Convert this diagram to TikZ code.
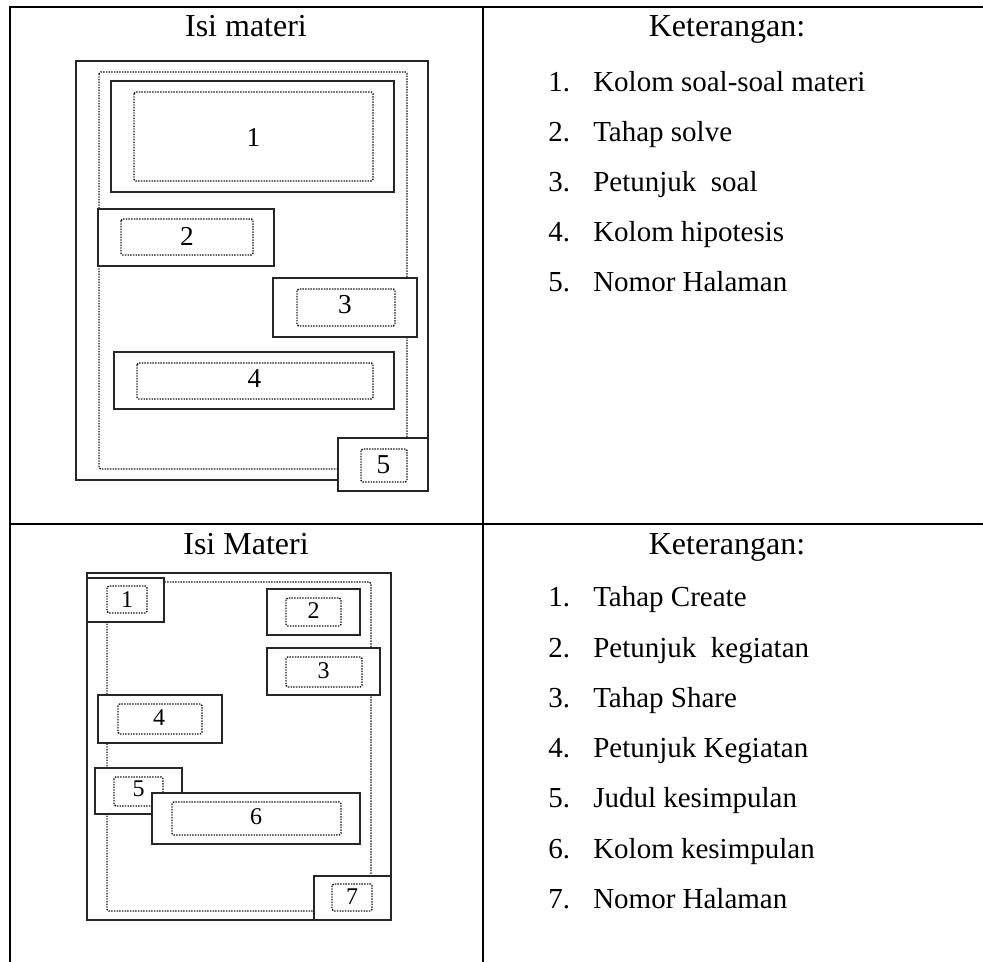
\documentclass[tikz,border=0pt]{standalone}
\usepackage{fontspec}
\setmainfont{Liberation Serif}
\begin{document}
\begin{tikzpicture}[x=0.75pt,y=-0.75pt,
  tableline/.style={line width=1.5pt,black},
  solidbox/.style={draw=black!85,line width=1.1pt,fill=white},
  dotbox/.style={draw=black!90,line width=1pt,dash pattern=on 1.1pt off 0.9pt,rounded corners=1.2pt},
  head/.style={anchor=base,inner sep=0pt,font=\fontsize{24}{28}\selectfont},
  item/.style={anchor=base west,inner sep=0pt,font=\fontsize{21.75}{26}\selectfont},
  digA/.style={inner sep=0pt,font=\fontsize{20.5}{22}\selectfont},
  digB/.style={inner sep=0pt,font=\fontsize{18}{20}\selectfont}]
\useasboundingbox (0,0) rectangle (983,962);
% table lines
\draw[tableline] (10,7.5) -- (983,7.5);
\draw[tableline] (10,524) -- (983,524);
\draw[tableline] (10,6.5) -- (10,962);
\draw[tableline] (483,6.5) -- (483,962);
% headings
\node[head] (h1) at (246,37) {Isi materi};
\node[head] (k1) at (727,37) {Keterangan:};
\node[head] (h2) at (246,555) {Isi Materi};
\node[head] (k2) at (727,555) {Keterangan:};
% legend 1
\foreach \n/\t [count=\i from 0] in {1/Kolom soal-soal materi,2/Tahap solve,3/Petunjuk\ \ soal,4/Kolom hipotesis,5/Nomor Halaman}{
  \node[item] (la\n) at (548,92+50*\i) {\n.};
  \node[item] (ta\n) at (593,92+50*\i) {\t};
}
% legend 2
\foreach \n/\t [count=\i from 0] in {1/Tahap Create,2/Petunjuk\ \ kegiatan,3/Tahap Share,4/Petunjuk Kegiatan,5/Judul kesimpulan,6/Kolom kesimpulan,7/Nomor Halaman}{
  \node[item] (lb\n) at (548,607+50.2*\i) {\n.};
  \node[item] (tb\n) at (593,607+50.2*\i) {\t};
}
% ---- layout 1 ----
\draw[draw=black!85,line width=1.1pt] (76,61) rectangle (428,480);
\draw[dotbox] (99,72) rectangle (407,469);
\draw[solidbox] (111,81) rectangle (394,192);
\draw[dotbox] (134,92) rectangle (373,181);
\node[digA] (a1) at (253.5,137.5) {1};
\draw[solidbox] (98,209) rectangle (274,266);
\draw[dotbox] (121,219) rectangle (253,255);
\node[digA] (a2) at (187,236) {2};
\draw[solidbox] (273,278) rectangle (417,337);
\draw[dotbox] (297,289) rectangle (395,326);
\node[digA] (a3) at (345,305) {3};
\draw[solidbox] (114,352) rectangle (394,409);
\draw[dotbox] (137,363) rectangle (373,399);
\node[digA] (a4) at (254.5,379) {4};
\draw[solidbox] (338,438) rectangle (428,491);
\draw[dotbox] (361,449) rectangle (407,482);
\node[digA] (a5) at (383.5,465) {5};
% ---- layout 2 ----
\draw[draw=black!85,line width=1.1pt] (87,573) rectangle (391,920);
\draw[dotbox] (107,582) rectangle (371,911);
\draw[solidbox] (87,578) rectangle (164,622);
\draw[dotbox] (107,586) rectangle (147,613);
\node[digB] (b1) at (127,599.5) {1};
\draw[solidbox] (267,589) rectangle (360,635);
\draw[dotbox] (286,598) rectangle (341,626);
\node[digB] (b2) at (313.5,611) {2};
\draw[solidbox] (267,648) rectangle (380,695);
\draw[dotbox] (286,657) rectangle (362,687);
\node[digB] (b3) at (323.5,671) {3};
\draw[solidbox] (98,695) rectangle (222,743);
\draw[dotbox] (118,704) rectangle (202,734);
\node[digB] (b4) at (159,718) {4};
\draw[solidbox] (95,768) rectangle (182,814);
\draw[dotbox] (114,777) rectangle (163,806);
\node[digB] (b5) at (138.5,789) {5};
\draw[solidbox] (152,793) rectangle (360,844);
\draw[dotbox] (172,802) rectangle (341,835);
\node[digB] (b6) at (256,816.5) {6};
\draw[solidbox] (314,876) rectangle (391,920);
\draw[dotbox] (332,884) rectangle (372,911);
\node[digB] (b7) at (352,897) {7};
\end{tikzpicture}
\end{document}
